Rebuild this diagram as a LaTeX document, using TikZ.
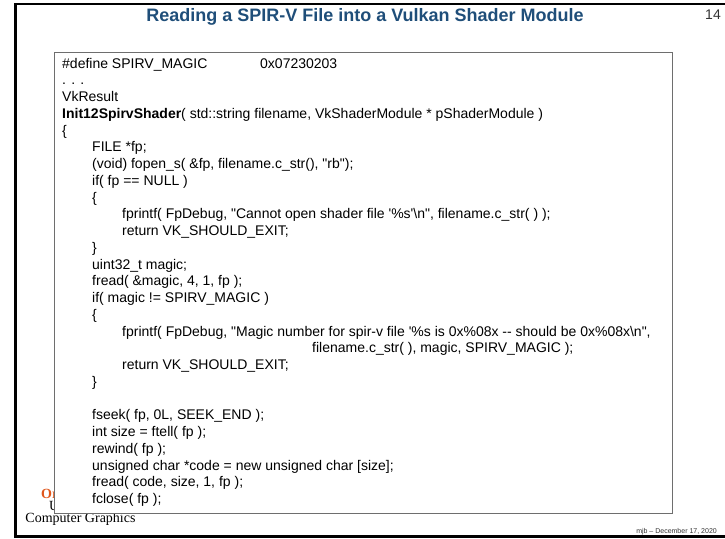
\documentclass[tikz,border=0pt]{standalone}
\usepackage{fontspec}
\setmainfont{Liberation Serif}
\newfontfamily\codefont{Liberation Sans}[Ligatures=TeXOff]
\newfontfamily\slidefont{Liberation Sans}
\definecolor{titleblue}{HTML}{1F4E79}
\definecolor{osuorange}{HTML}{E0561B}
\definecolor{boxgray}{HTML}{6E6E6E}
\definecolor{numgray}{HTML}{333333}
\tikzset{
  code/.style={anchor=base west, inner sep=0pt, text=black,
    font=\codefont\fontsize{14}{16}\selectfont},
  logo/.style={anchor=base west, inner sep=0pt, font=\fontsize{14}{16}\selectfont},
}
\begin{document}
\begin{tikzpicture}[x=1pt,y=-1pt]
\useasboundingbox (0,0) rectangle (725,538);
% slide frame, open at the right edge
\draw[line width=2.6pt, black] (725,4) -- (15.5,4) -- (15.5,536.5) -- (725,536.5);

% title and page number
\node (title) [inner sep=0pt, text=titleblue, font=\slidefont\bfseries\fontsize{18}{20}\selectfont] at (365,17) {Reading a SPIR-V File into a Vulkan Shader Module};
\node (pagenum) [inner sep=0pt, text=numgray, font=\slidefont\fontsize{14}{16}\selectfont] at (713,15) {14};

% university logo: only its left edge shows beside the code box
\begin{scope}
  \clip (17,480) rectangle (54,514);
  \node (logoA) [logo, text=osuorange, font=\bfseries\fontsize{14}{16}\selectfont] at (41,498) {Or};
  \node (logoB) [logo] at (49,510) {U};
\end{scope}
\node (logoC) [logo, anchor=base] at (80.5,522) {Computer Graphics};
\node (footer) [anchor=base east, inner sep=0pt, text=numgray, font=\slidefont\fontsize{7}{8}\selectfont] at (717,533.5) {mjb – December 17, 2020};

% code box
\node (codebox) [draw=boxgray, line width=1.4pt, fill=white, anchor=north west, inner sep=0pt,
  minimum width=618pt, minimum height=461pt] at (54,52) {};

% code listing
\node (c01) [code] at (62,68) {\#define SPIRV\_MAGIC};
\node (c01b) [code] at (260,68) {0x07230203};
\node (c02) [code] at (62,84.75) {. . .};
\node (c03) [code] at (62,101.5) {VkResult};
\node (c04) [code] at (62,118.25) {\textbf{Init12SpirvShader}( std::string filename, VkShaderModule * pShaderModule )};
\node (c05) [code] at (62,135) {\{};
\node (c06) [code] at (92,151.75) {FILE *fp;};
\node (c07) [code] at (92,168.5) {(void) fopen\_s( \&fp, filename.c\_str(), "rb");};
\node (c08) [code] at (92,185.25) {if( fp == NULL )};
\node (c09) [code] at (92,202) {\{};
\node (c10) [code] at (122,218.75) {fprintf( FpDebug, "Cannot open shader file '\%s'\textbackslash n", filename.c\_str( ) );};
\node (c11) [code] at (122,235.5) {return VK\_SHOULD\_EXIT;};
\node (c12) [code] at (92,252.25) {\}};
\node (c13) [code] at (92,269) {uint32\_t magic;};
\node (c14) [code] at (92,285.75) {fread( \&magic, 4, 1, fp );};
\node (c15) [code] at (92,302.5) {if( magic != SPIRV\_MAGIC )};
\node (c16) [code] at (92,319.25) {\{};
\node (c17) [code] at (122,336) {fprintf( FpDebug, "Magic number for spir-v file '\%s is 0x\%08x -- should be 0x\%08x\textbackslash n",};
\node (c18) [code] at (312,352.75) {filename.c\_str( ), magic, SPIRV\_MAGIC );};
\node (c19) [code] at (122,369.5) {return VK\_SHOULD\_EXIT;};
\node (c20) [code] at (92,386.25) {\}};
\node (c22) [code] at (92,419.75) {fseek( fp, 0L, SEEK\_END );};
\node (c23) [code] at (92,436.5) {int size = ftell( fp );};
\node (c24) [code] at (92,453.25) {rewind( fp );};
\node (c25) [code] at (92,470) {unsigned char *code = new unsigned char [size];};
\node (c26) [code] at (92,486.75) {fread( code, size, 1, fp );};
\node (c27) [code] at (92,503.5) {fclose( fp );};
\end{tikzpicture}
\end{document}
